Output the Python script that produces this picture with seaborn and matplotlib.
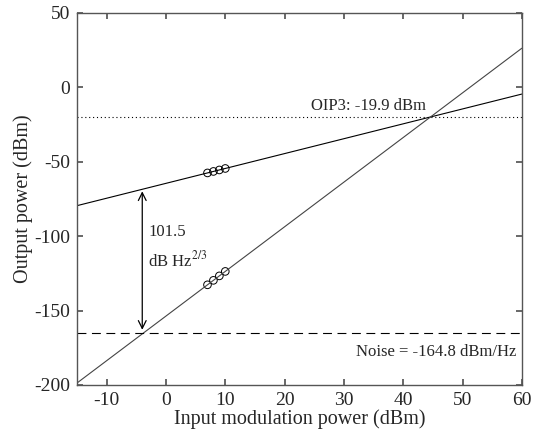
import matplotlib
matplotlib.use("Agg")
import matplotlib.pyplot as plt
import seaborn as sns
import pandas as pd

sns.set_theme(style="ticks")
plt.rcParams['font.family'] = ['Liberation Serif', 'DejaVu Serif']
plt.rcParams['mathtext.fontset'] = 'stix'
plt.rcParams['axes.unicode_minus'] = False

# Data
line_x = [-15, 60]
fund_y = [-79.5, -4.5]
im3_y = [-198.7, 26.3]
meas_x = [7, 8, 9, 10]
meas_fund = [-57.5, -56.5, -55.5, -54.5]
meas_im3 = [-132.7, -129.7, -126.7, -123.7]
oip3 = -19.9
noise = -164.8
arrow_x = -4.0
arrow_top = -68.0
arrow_bottom = -164.8
xticks = [-10, 0, 10, 20, 30, 40, 50, 60]
yticks = [-200, -150, -100, -50, 0, 50]

fig = plt.figure(figsize=(5.33, 4.33), dpi=100)
ax = fig.add_axes([0.1445, 0.111, 0.8345, 0.859])

lines = pd.DataFrame({"x": line_x * 2, "y": fund_y + im3_y,
                      "s": ["fund"] * 2 + ["im3"] * 2})
sns.lineplot(data=lines[lines.s == "fund"], x="x", y="y", color="black", lw=0.8, ax=ax)
sns.lineplot(data=lines[lines.s == "im3"], x="x", y="y", color="#444444", lw=0.8, ax=ax)

pts = pd.DataFrame({"x": meas_x * 2, "y": meas_fund + meas_im3})
sns.scatterplot(data=pts, x="x", y="y", marker="o", s=30, facecolor="none",
                edgecolor="black", linewidth=0.7, ax=ax)

ax.axhline(oip3, color="black", ls=(0, (1, 2.5)), lw=0.8)
ax.axhline(noise, color="black", ls=(0, (8, 5)), lw=0.8)

ax.annotate("", xy=(arrow_x, arrow_top), xytext=(arrow_x, arrow_bottom),
            arrowprops=dict(arrowstyle="<->", color="black", lw=0.9,
                            mutation_scale=14))
ax.text(-3.0, -97, "101.5", fontsize=12, va="center", ha="left")
ax.text(-3.0, -116, r"dB Hz$^{2/3}$", fontsize=12, va="center", ha="left")
ax.text(24.5, -12.5, "OIP3: -19.9 dBm", fontsize=12, va="center", ha="left")
ax.text(59, -178, "Noise = -164.8 dBm/Hz", fontsize=12, va="center", ha="right")

ax.set_xlim(-15, 60)
ax.set_ylim(-200, 50)
ax.set_xticks(xticks)
ax.set_yticks(yticks)
ax.tick_params(direction="in", top=True, right=True, labelsize=14, length=4,
               color="#555555", pad=5)
for sp in ax.spines.values():
    sp.set_color("#555555")
    sp.set_linewidth(1.0)
ax.set_xlabel("Input modulation power (dBm)", fontsize=14.5, labelpad=0)
ax.set_ylabel("Output power (dBm)", fontsize=14.5, labelpad=1)

fig.savefig("out.png", dpi=100)
